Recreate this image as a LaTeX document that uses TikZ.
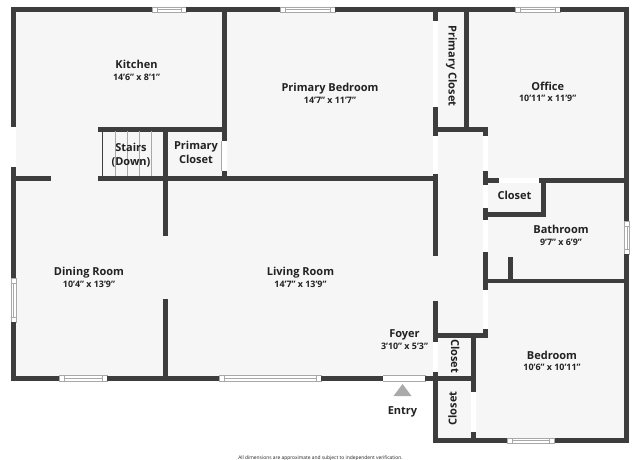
\documentclass[tikz,border=0pt]{standalone}
\usepackage{fontspec}
\setmainfont{Open Sans}
\definecolor{wallc}{HTML}{3D3D3D}
\definecolor{floorc}{HTML}{F6F6F6}
\definecolor{inkc}{HTML}{222222}
\definecolor{linec}{HTML}{A8A8A8}
\definecolor{arrowc}{HTML}{AAAAAA}
\newcommand{\wl}[4]{\fill[wallc] (#1,#2) rectangle (#3,#4);}
\newcommand{\op}[4]{\fill[white] (#1,#2) rectangle (#3,#4);}
\newcommand{\winh}[4]{\fill[white] (#1,#2) rectangle (#3,#4);
  \draw[winl] (#1,#2) rectangle (#3,#4);
  \draw[winl] (#1+5,#2) -- (#1+5,#4) (#3-5,#2) -- (#3-5,#4) (#1+5,#2/2+#4/2) -- (#3-5,#2/2+#4/2);}
\newcommand{\winv}[4]{\fill[white] (#1,#2) rectangle (#3,#4);
  \draw[winl] (#1,#2) rectangle (#3,#4);
  \draw[winl] (#1,#2+5) -- (#3,#2+5) (#1,#4-5) -- (#3,#4-5) (#1/2+#3/2,#2+5) -- (#1/2+#3/2,#4-5);}
\tikzset{
  winl/.style={draw=linec,line width=0.5pt},
  tread/.style={draw=linec,line width=0.6pt},
  room/.style={font=\fontsize{11}{12}\selectfont\bfseries,text=inkc,inner sep=0pt,text height=8pt,text depth=0pt},
  dims/.style={font=\fontsize{8.9}{10}\selectfont\bfseries,text=inkc,inner sep=0pt,text height=6.4pt,text depth=0pt},
  note/.style={font=\fontsize{4.9}{5}\selectfont,text=inkc,inner sep=0pt}
}
\begin{document}
\begin{tikzpicture}[x=1pt,y=-1pt]
\useasboundingbox (0,0) rectangle (640,460);
\clip (0,0) rectangle (640,460);
\fill[white] (0,0) rectangle (640,460);
% floor
\fill[floorc] (11,7) -- (629,7) -- (629,443) -- (433,443) -- (433,381) -- (11,381) -- cycle;
\fill[white] (383,376) rectangle (425,381);
% outer walls
\wl{11}{7}{152}{12} \winh{152}{7}{186}{12}
\wl{186}{7}{280}{12} \winh{280}{7}{335}{12}
\wl{335}{7}{515}{12} \winh{515}{7}{560}{12}
\wl{560}{7}{629.3}{12}
\wl{624.3}{7}{629.3}{221} \winv{624.3}{221}{629.3}{254} \wl{624.3}{254}{629.3}{443}
\wl{433}{438}{507.7}{443} \winh{507.7}{438}{554.7}{443} \wl{554.7}{438}{629.3}{443}
\wl{11}{7}{16}{127} \op{11}{127}{16}{167} \wl{11}{167}{16}{278}
\winv{11}{278}{16}{322} \wl{11}{322}{16}{381}
\wl{11}{375.5}{59}{381} \winh{59}{375.5}{107}{381} \wl{107}{375.5}{219}{381}
\winh{219}{375.5}{321}{381} \wl{321}{375.5}{383}{381}
\draw[winl] (383,375.5) rectangle (425,381);
\fill[white] (383.3,375.8) rectangle (424.7,380.7);
\wl{425}{375.5}{475}{381}
% kitchen / stairs / primary closet
\wl{221.7}{7}{226.7}{141} \op{221.7}{141}{226.7}{171} \wl{221.7}{171}{226.7}{181}
\draw[winl] (221.7,141) -- (221.7,171);
\wl{98.3}{126.7}{226.7}{131.5}
\wl{162.7}{127}{167.7}{236} \wl{162.7}{299}{167.7}{381}
\wl{16}{175.7}{51}{180.7} \wl{98.3}{175.7}{438}{180.7}
\draw[wallc,line width=1pt] (102.5,130) -- (102.5,176);
\draw[tread] (115,131) -- (115,176) (127,131) -- (127,176) (139,131) -- (139,176) (151,131) -- (151,176);
% hall wall left
\wl{433.3}{7}{438.3}{21} \op{433.3}{21}{438.3}{107} \wl{433.3}{107}{438.3}{136}
\op{433.3}{136}{438.3}{174} \wl{433.3}{174}{438.3}{256}
\wl{433.3}{300.5}{438.3}{342} \op{433.3}{342}{438.3}{371.5} \wl{433.3}{371.5}{438.3}{443}
% primary closet right
\wl{464}{7}{469}{127}
\wl{433.3}{126.7}{488.3}{131.5}
% hall wall right
\wl{483.3}{127}{488.3}{136} \op{483.3}{136}{488.3}{171} \wl{483.3}{171}{488.3}{185}
\op{483.3}{185}{488.3}{208} \wl{483.3}{208}{488.3}{220} \op{483.3}{220}{488.3}{252}
\wl{483.3}{252}{488.3}{290} \op{483.3}{290}{488.3}{329} \wl{483.3}{329}{488.3}{338}
% closet off hall
\wl{488}{177.7}{499}{182.7} \op{499}{178}{539}{182.5} \wl{539}{177.7}{625}{182.7}
\wl{541}{178}{546}{217} \wl{488}{212}{546}{217}
% bathroom
\wl{488}{278.7}{625}{283.3} \wl{508}{256.7}{513}{283}
% foyer closets
\wl{438}{332.7}{488.3}{337.7}
\wl{470.7}{333}{475.7}{392} \op{470.7}{392}{475.7}{432} \wl{470.7}{432}{475.7}{438}
% entry arrow
\fill[arrowc] (402.5,384) -- (411.5,396) -- (393.5,396) -- cycle;
% labels
\node[room] (kitchen) at (136.5,65) {Kitchen};
\node[dims] (kitchend) at (136.5,77.5) {14'6'' x 8'1''};
\node[room] (pbed) at (330,88) {Primary Bedroom};
\node[dims] (pbedd) at (330,100) {14'7'' x 11'7''};
\node[room] (office) at (547.7,86) {Office};
\node[dims] (officed) at (547.7,98.5) {10'11'' x 11'9''};
\node[room,rotate=-90] (pcl) at (452.5,66) {Primary Closet};
\node[room] (stairs) at (131,147) {Stairs};
\node[room] (stairsb) at (131,161.5) {(Down)};
\node[room] (pcla) at (196,145) {Primary};
\node[room] (pclb) at (196,159) {Closet};
\node[room] (hcl) at (514.5,195) {Closet};
\node[room] (bath) at (561,229.5) {Bathroom};
\node[dims] (bathd) at (561,242) {9'7'' x 6'9''};
\node[room] (dining) at (89,271.5) {Dining Room};
\node[dims] (diningd) at (89,284) {10'4'' x 13'9''};
\node[room] (living) at (300.5,271.5) {Living Room};
\node[dims] (livingd) at (300.5,284) {14'7'' x 13'9''};
\node[room] (foyer) at (404.5,333.5) {Foyer};
\node[dims] (foyerd) at (404.5,346.5) {3'10'' x 5'3''};
\node[room,rotate=-90] (fcl) at (455,356) {Closet};
\node[room,rotate=90] (lcl) at (452.7,408.5) {Closet};
\node[room] (bedroom) at (552,355) {Bedroom};
\node[dims] (bedroomd) at (552,367) {10'6'' x 10'11''};
\node[room] (entry) at (402.5,410) {Entry};
\node[note] (fn) at (320.5,458.5) {All dimensions are approximate and subject to independent verification.};
\end{tikzpicture}
\end{document}
